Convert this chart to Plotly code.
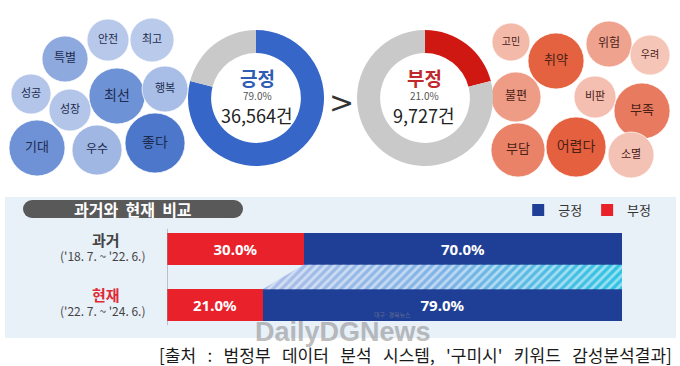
import plotly.graph_objects as go

# ---------------- data ----------------
sentiments = ["긍정", "부정"]
share_pct = [79.0, 21.0]
counts = [36564, 9727]

pos_words = ["안전", "최고", "특별", "성공", "성장", "최선", "행복", "기대", "우수", "좋다"]
neg_words = ["고민", "취약", "위험", "우려", "불편", "비판", "부족", "부담", "어렵다", "소멸"]

periods = ["과거", "현재"]
period_ranges = ["('18. 7. ~ '22. 6.)", "('22. 7. ~ '24. 6.)"]
neg_share = [30.0, 21.0]
pos_share = [70.0, 79.0]

title_text = "과거와 현재 비교"
source_text = "[출처 : 범정부 데이터 분석 시스템, '구미시' 키워드 감성분석결과]"

# ---------------- layout / style (pixel placement) ----------------
W, H = 680, 366
KR = "Noto Sans CJK KR"
BLUE_D = "#3566C8"
RED_D = "#D01812"
GRAY_D = "#C9C9C9"
BAR_RED = "#E8212B"
BAR_BLUE = "#1F3F96"

pos_bubbles = [  # x, y, diameter, color, font size
    (108, 40, 42, "#B7C8EA", 11),
    (152, 40, 44, "#B9CAEA", 11),
    (65, 59, 46, "#8EA9DD", 12),
    (31, 94, 40, "#B3C5E9", 11),
    (70, 110, 42, "#B3C5E9", 11),
    (117, 96, 56, "#6E92D6", 14),
    (165, 89, 46, "#A9BEE6", 11),
    (37, 148, 56, "#6F91D5", 13),
    (97, 150, 50, "#A0B6E3", 12),
    (155, 143, 60, "#4D77CB", 14),
]
neg_bubbles = [
    (511, 42, 38, "#F3BAAA", 10),
    (556, 61, 56, "#E4623F", 13),
    (609, 44, 46, "#EFA38E", 12),
    (650, 55, 40, "#F5C6B8", 10),
    (516, 97, 50, "#EE9C86", 12),
    (595, 97, 42, "#F4BEB0", 11),
    (642, 111, 56, "#E87B5F", 13),
    (518, 150, 54, "#EA8268", 13),
    (576, 147, 60, "#E4603E", 14),
    (631, 155, 46, "#F4C2B4", 11),
]

fig = go.Figure()


def add_bubbles(words, spec, txtcolor):
    fig.add_trace(go.Scatter(
        x=[s[0] for s in spec], y=[s[1] for s in spec],
        mode="markers+text", text=words,
        marker=dict(size=[s[2] for s in spec], color=[s[3] for s in spec],
                    line=dict(width=1, color="rgba(255,255,255,0.7)"), opacity=1),
        textfont=dict(family=KR, size=[s[4] for s in spec], color=txtcolor),
        textposition="middle center", hoverinfo="skip", showlegend=False,
        xaxis="x", yaxis="y"))


add_bubbles(pos_words, pos_bubbles, "#1C2B4E")
add_bubbles(neg_words, neg_bubbles, "#4A2016")


def px_domain(cx, cy, d):
    return dict(x=[(cx - d / 2) / W, (cx + d / 2) / W],
                y=[1 - (cy + d / 2) / H, 1 - (cy - d / 2) / H])


fig.add_trace(go.Pie(values=[share_pct[0], 100 - share_pct[0]], labels=["긍정", "기타"],
                     marker=dict(colors=[BLUE_D, GRAY_D], line=dict(width=0)),
                     hole=0.66, sort=False, direction="clockwise", rotation=0,
                     textinfo="none", hoverinfo="skip", showlegend=False,
                     domain=px_domain(256, 98, 136)))
fig.add_trace(go.Pie(values=[share_pct[1], 100 - share_pct[1]], labels=["부정", "기타"],
                     marker=dict(colors=[RED_D, GRAY_D], line=dict(width=0)),
                     hole=0.66, sort=False, direction="clockwise", rotation=0,
                     textinfo="none", hoverinfo="skip", showlegend=False,
                     domain=px_domain(425, 98, 136)))

# bars
bw = 0.56
ypos = [1, 0]
fig.add_trace(go.Bar(
    y=ypos, x=neg_share, orientation="h", name=sentiments[1], width=bw,
    marker=dict(color=BAR_RED, line=dict(width=0)),
    text=[f"{v:.1f}%" for v in neg_share], textposition="inside",
    insidetextanchor="middle", textangle=0,
    textfont=dict(family="Noto Sans", size=15, color="white", weight="bold"),
    hoverinfo="skip", legendrank=2, xaxis="x2", yaxis="y2"))
fig.add_trace(go.Bar(
    y=ypos, x=pos_share, orientation="h", name=sentiments[0], width=bw,
    marker=dict(color=BAR_BLUE, line=dict(width=0)),
    text=[f"{v:.1f}%" for v in pos_share], textposition="inside",
    insidetextanchor="middle", textangle=0,
    textfont=dict(family="Noto Sans", size=15, color="white", weight="bold"),
    hoverinfo="skip", legendrank=1, xaxis="x2", yaxis="y2"))

# connecting hatched band between bars (from data)
tx = [neg_share[0], 100, 100, neg_share[1], neg_share[0]]
ty = [1 - bw / 2, 1 - bw / 2, bw / 2, bw / 2, 1 - bw / 2]
fig.add_trace(go.Scatter(
    x=tx, y=ty, mode="lines", fill="toself", line=dict(width=0),
    fillgradient=dict(type="horizontal",
                      colorscale=[[0, "#ADBFE8"], [0.5, "#80B3E6"], [1, "#2FC3E3"]]),
    hoverinfo="skip", showlegend=False, xaxis="x2", yaxis="y2"))
fig.add_trace(go.Scatter(
    x=tx, y=ty, mode="lines", fill="toself", line=dict(width=0),
    fillcolor="rgba(0,0,0,0)",
    fillpattern=dict(shape="/", fgcolor="white", size=6, solidity=0.45),
    hoverinfo="skip", showlegend=False, xaxis="x2", yaxis="y2"))

shapes = [
    dict(type="rect", xref="x", yref="y", x0=5, x1=676, y0=197, y1=338,
         fillcolor="#E8F0F8", line=dict(width=0), layer="below"),
    dict(type="rect", xref="x", yref="y", x0=32, x1=234, y0=200, y1=218,
         fillcolor="#595959", line=dict(width=0), layer="below"),
    dict(type="circle", xref="x", yref="y", x0=23, x1=41, y0=200, y1=218,
         fillcolor="#595959", line=dict(width=0), layer="below"),
    dict(type="circle", xref="x", yref="y", x0=225, x1=243, y0=200, y1=218,
         fillcolor="#595959", line=dict(width=0), layer="below"),
    dict(type="line", xref="x2", yref="y2", x0=0, x1=0, y0=-0.36, y1=1.36,
         line=dict(color="#8F8F8F", width=1)),
]

ann = []


def t(x, y, s, size, color, bold=False, family=KR, anchor="center", opacity=1.0):
    ann.append(dict(x=x, y=y, xref="x", yref="y", text=f"<b>{s}</b>" if bold else s,
                    showarrow=False, xanchor=anchor, yanchor="middle", opacity=opacity,
                    font=dict(family=family, size=size, color=color)))


def wide(s, n):
    return s.replace(" ", "\u00a0" * n)


# donut centre labels
t(257, 77, sentiments[0], 19, "#2F5DB5", bold=True)
t(257, 95, f"{share_pct[0]:.1f}%", 10, "#555555")
t(257, 115, f"{counts[0]:,}건", 18, "#222222")
t(424, 77, sentiments[1], 19, "#C0282D", bold=True)
t(424, 95, f"{share_pct[1]:.1f}%", 10, "#555555")
t(424, 115, f"{counts[1]:,}건", 18, "#222222")
t(341, 102, "&gt;", 30, "#333333", family="DejaVu Sans")

# bar panel text
t(133, 209, wide(title_text, 2), 16, "white", bold=True)
t(106, 239, periods[0], 15, "#444444", bold=True)
t(103, 255, period_ranges[0], 12, "#444444")
t(106, 294, periods[1], 15, "#E02A36", bold=True)
t(103, 310, period_ranges[1], 12, "#444444")

# watermark
t(343, 332, "<b>DailyDGNews</b>", 27, "#8A8A8A", family="Liberation Sans", opacity=0.55)
t(392, 314, "대구·경북뉴스", 6, "#8A8A8A", opacity=0.6)

# source
t(674, 354, wide(source_text, 3), 17, "#1a1a1a", anchor="right")

fig.update_layout(
    width=W, height=H, autosize=False,
    margin=dict(l=0, r=0, t=0, b=0),
    paper_bgcolor="white", plot_bgcolor="rgba(0,0,0,0)",
    barmode="stack", bargap=0,
    xaxis=dict(range=[0, W], domain=[0, 1], visible=False, fixedrange=True),
    yaxis=dict(range=[H, 0], domain=[0, 1], visible=False, fixedrange=True),
    xaxis2=dict(range=[0, 100], domain=[167 / W, 622 / W], visible=False,
                anchor="y2", fixedrange=True),
    yaxis2=dict(range=[-0.5, 1.5], domain=[1 - 333 / H, 1 - 221 / H], visible=False,
                anchor="x2", fixedrange=True),
    shapes=shapes, annotations=ann,
    legend=dict(orientation="h", x=0.965, xanchor="right", y=1 - 210 / H,
                yanchor="middle", bgcolor="rgba(0,0,0,0)", itemwidth=30,
                font=dict(family=KR, size=13, color="#333333"), traceorder="normal"),
    showlegend=True,
)

fig.write_html(
    "out.html",
    config={"displayModeBar": False},
    post_script="document.body.style.margin='0';document.body.style.padding='0';"
                "document.body.style.overflow='hidden';",
)
